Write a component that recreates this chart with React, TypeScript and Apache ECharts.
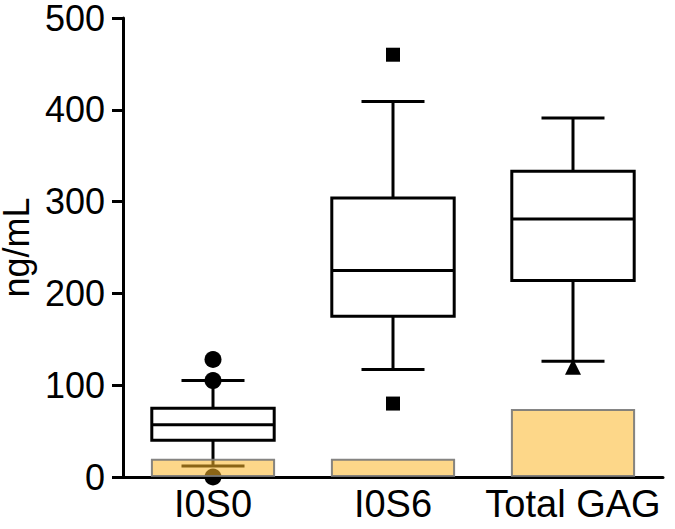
import React, { useEffect, useRef } from "react";
import * as echarts from "echarts";

const categories = ["I0S0", "I0S6", "Total GAG"];
// [low whisker, Q1, median, Q3, high whisker]
const boxStats = [
  [12, 40, 57, 75, 105],
  [117, 175, 225, 304, 409],
  [126, 214, 281, 333, 391],
];
const outliersI0S0 = [[0, 128], [0, 105], [0, 0]];
const outliersI0S6 = [[1, 460], [1, 80]];
const outliersTotal = [[2, 120]];
const barValues = [20, 20, 74];
const yTicks = [0, 100, 200, 300, 400, 500];

const FONT = "'Liberation Sans', Arial, sans-serif";

export default function App() {
  const ref = useRef<HTMLDivElement>(null);
  useEffect(() => {
    if (!ref.current) return;
    const chart = echarts.init(ref.current, null, { renderer: "svg" });
    const lw = 3;
    chart.setOption({
      animation: false,
      grid: { left: 123, right: 12, top: 18, bottom: 52, containLabel: false, outerBoundsMode: "none" },
      xAxis: {
        type: "category",
        data: categories,
        boundaryGap: true,
        axisLine: { lineStyle: { color: "#000", width: lw } },
        axisTick: { alignWithLabel: true, length: 11, lineStyle: { color: "#000", width: lw } },
        axisLabel: { color: "#000", fontSize: 38, fontFamily: FONT, margin: 8, interval: 0 },
        splitLine: { show: false },
      },
      yAxis: {
        type: "value",
        min: yTicks[0],
        max: yTicks[yTicks.length - 1],
        interval: 100,
        name: "ng/mL",
        nameLocation: "middle",
        nameGap: 82,
        nameTextStyle: { color: "#000", fontSize: 36, lineHeight: 30, fontFamily: FONT },
        axisLine: { show: true, lineStyle: { color: "#000", width: lw } },
        axisTick: { show: true, length: 11, lineStyle: { color: "#000", width: lw } },
        axisLabel: { color: "#000", fontSize: 36, lineHeight: 30, fontFamily: FONT, margin: 18 },
        splitLine: { show: false },
      },
      series: [
        {
          type: "custom",
          z: 2,
          data: boxStats.map((s, i) => [i, ...s]),
          encode: { x: 0, y: [1, 2, 3, 4, 5] },
          renderItem: (params: any, api: any) => {
            const x = api.value(0);
            const band = api.size([1, 0])[0];
            const boxW = band * 0.68;
            const capW = band * 0.35;
            const pLow = api.coord([x, api.value(1)]);
            const pQ1 = api.coord([x, api.value(2)]);
            const pMed = api.coord([x, api.value(3)]);
            const pQ3 = api.coord([x, api.value(4)]);
            const pHigh = api.coord([x, api.value(5)]);
            const cx = pLow[0];
            const st = { stroke: "#000", lineWidth: lw, fill: "none" };
            return {
              type: "group",
              children: [
                { type: "line", shape: { x1: cx, y1: pLow[1], x2: cx, y2: pQ1[1] }, style: st },
                { type: "line", shape: { x1: cx, y1: pQ3[1], x2: cx, y2: pHigh[1] }, style: st },
                { type: "line", shape: { x1: cx - capW / 2, y1: pLow[1], x2: cx + capW / 2, y2: pLow[1] }, style: st },
                { type: "line", shape: { x1: cx - capW / 2, y1: pHigh[1], x2: cx + capW / 2, y2: pHigh[1] }, style: st },
                {
                  type: "rect",
                  shape: { x: cx - boxW / 2, y: pQ3[1], width: boxW, height: pQ1[1] - pQ3[1] },
                  style: { stroke: "#000", lineWidth: lw, fill: "#fff" },
                },
                { type: "line", shape: { x1: cx - boxW / 2, y1: pMed[1], x2: cx + boxW / 2, y2: pMed[1] }, style: st },
              ],
            };
          },
        },
        {
          type: "scatter",
          z: 3,
          symbol: "circle",
          symbolSize: 17,
          itemStyle: { color: "#000", opacity: 1 },
          data: outliersI0S0,
        },
        {
          type: "scatter",
          z: 3,
          symbol: "rect",
          symbolSize: 14,
          itemStyle: { color: "#000", opacity: 1 },
          data: outliersI0S6,
        },
        {
          type: "scatter",
          z: 3,
          symbol: "triangle",
          symbolSize: 16,
          itemStyle: { color: "#000", opacity: 1 },
          data: outliersTotal,
        },
        {
          type: "bar",
          z: 4,
          barWidth: "69%",
          data: barValues,
          itemStyle: {
            color: "rgba(251,183,40,0.55)",
            borderColor: "rgba(120,120,120,0.9)",
            borderWidth: 2,
          },
        },
      ],
    });
    return () => chart.dispose();
  }, []);
  return <div ref={ref} style={{ width: 675, height: 529, position: "absolute", left: 0, top: 0 }} />;
}
